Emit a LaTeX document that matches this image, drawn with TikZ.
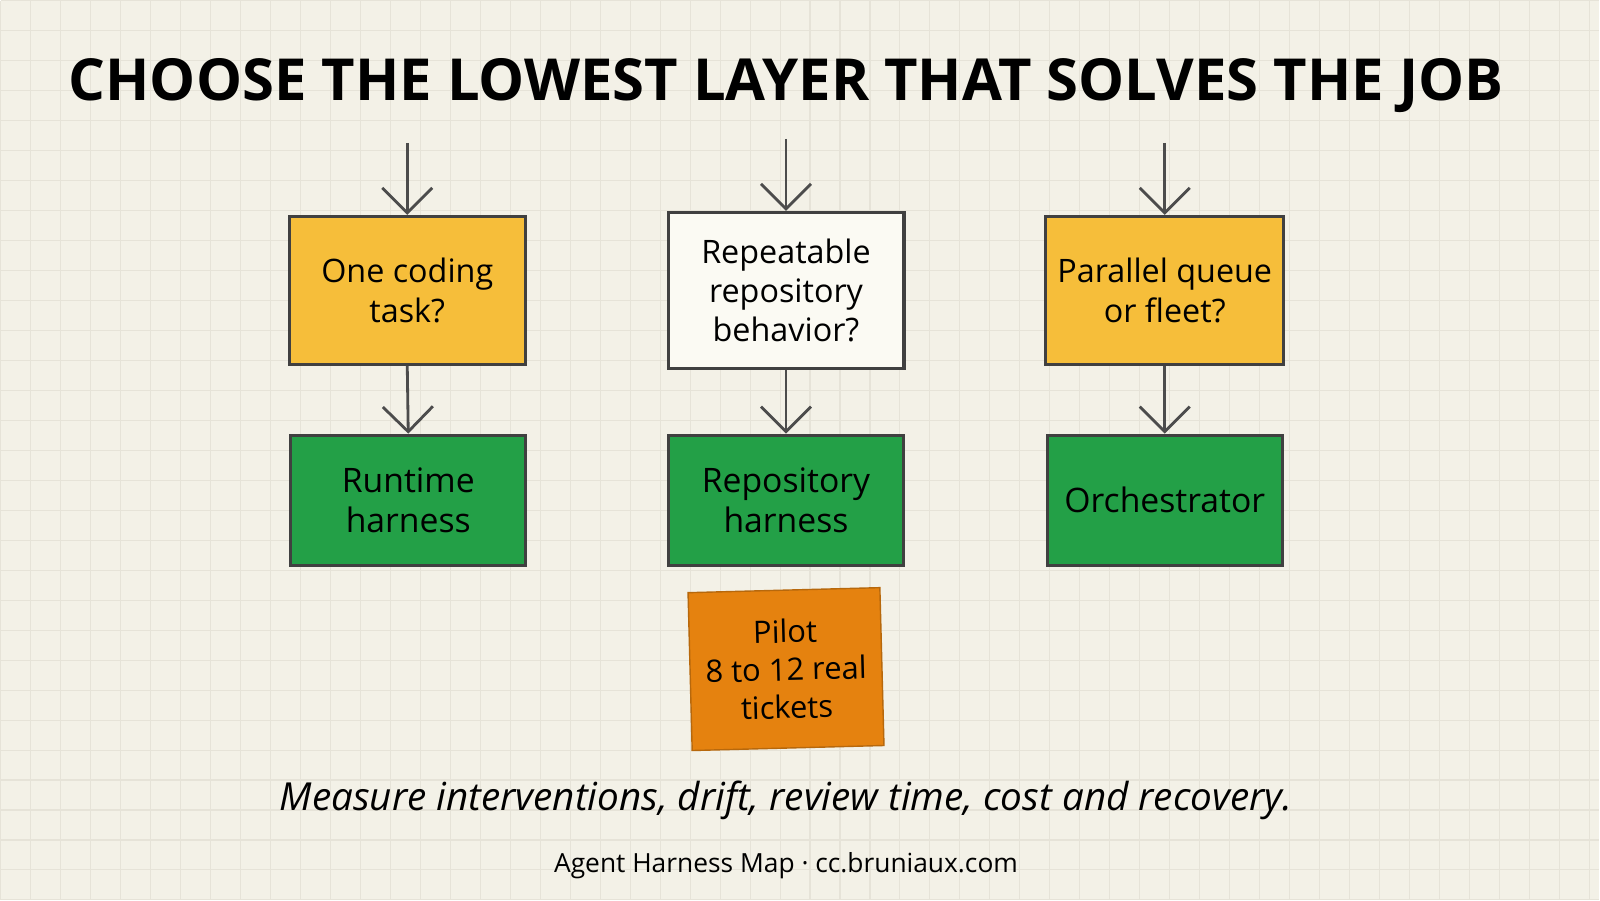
\documentclass[tikz,border=0pt]{standalone}
\usepackage{fontspec}
\setmainfont{Open Sans}
\usetikzlibrary{arrows.meta, positioning, calc}
\definecolor{paper}{HTML}{F3F1E7}
\definecolor{gridc}{HTML}{E6E3D8}
\definecolor{askyel}{HTML}{F6BE3A}
\definecolor{askwht}{HTML}{FBFAF3}
\definecolor{layergrn}{HTML}{23A047}
\definecolor{pilotorg}{HTML}{E5820F}
\begin{document}
\begin{tikzpicture}[
      ask/.style={rectangle, draw=black!75, line width=0.9pt, fill=askyel, minimum width=2.36cm, minimum height=1.48cm, align=center, font=\fontsize{9.2}{11.2}\selectfont},
      layer/.style={rectangle, draw=black!75, line width=0.9pt, fill=layergrn, minimum width=2.35cm, minimum height=1.3cm, align=center, font=\fontsize{9.6}{11.2}\selectfont},
      flow/.style={-{Straight Barb[length=2.5mm]}, line width=0.8pt, black!70}]

      % Paper and grid
      \fill[paper] (0,0) rectangle (16,9);
      \draw[gridc, line width=0.3pt] (0,0) grid[step=0.3] (16,9);
      \useasboundingbox (0,0) rectangle (16,9);

      % Title
      \node[font=\fontsize{16.5}{20}\selectfont\bfseries] (title) at (7.86,8.15) {CHOOSE THE LOWEST LAYER THAT SOLVES THE JOB};

      % Questions
      \node[ask] (task) at (4.07,6.1) {One coding\\task?};
      \node[ask, fill=askwht, minimum height=1.56cm] (repo) at (7.86,6.1) {Repeatable\\repository\\behavior?};
      \node[ask] (fleet) at (11.65,6.1) {Parallel queue\\or fleet?};

      % Layers
      \node[layer] (runtime) at (4.08,4.0) {Runtime\\harness};
      \node[layer] (repoh) at (7.86,4.0) {Repository\\harness};
      \node[layer] (orch) at (11.65,4.0) {Orchestrator};

      % Pilot
      \node[rectangle, fill=pilotorg, draw=pilotorg!80!black, rotate=1.5, minimum width=1.92cm, minimum height=1.58cm, align=center, font=\fontsize{8.8}{10.8}\selectfont] (pilot) at (7.86,2.31) {Pilot\\8 to 12 real\\tickets};

      % Arrows
      \foreach \q/\l in {task/runtime, repo/repoh, fleet/orch} {
        \coordinate (in-\q) at ($(\q.north)+(0,0.72)$);
        \draw[flow] (in-\q) -- (\q.north);
        \draw[flow] (\q.south) -- (\l.north);
      }

      % Notes
      \node[font=\fontsize{11}{13}\selectfont\itshape] (measure) at (7.86,1.0) {Measure interventions, drift, review time, cost and recovery.};
      \node[font=\fontsize{7.5}{9}\selectfont] (footer) at (7.86,0.34) {Agent Harness Map · cc.bruniaux.com};
    \end{tikzpicture}
\end{document}
